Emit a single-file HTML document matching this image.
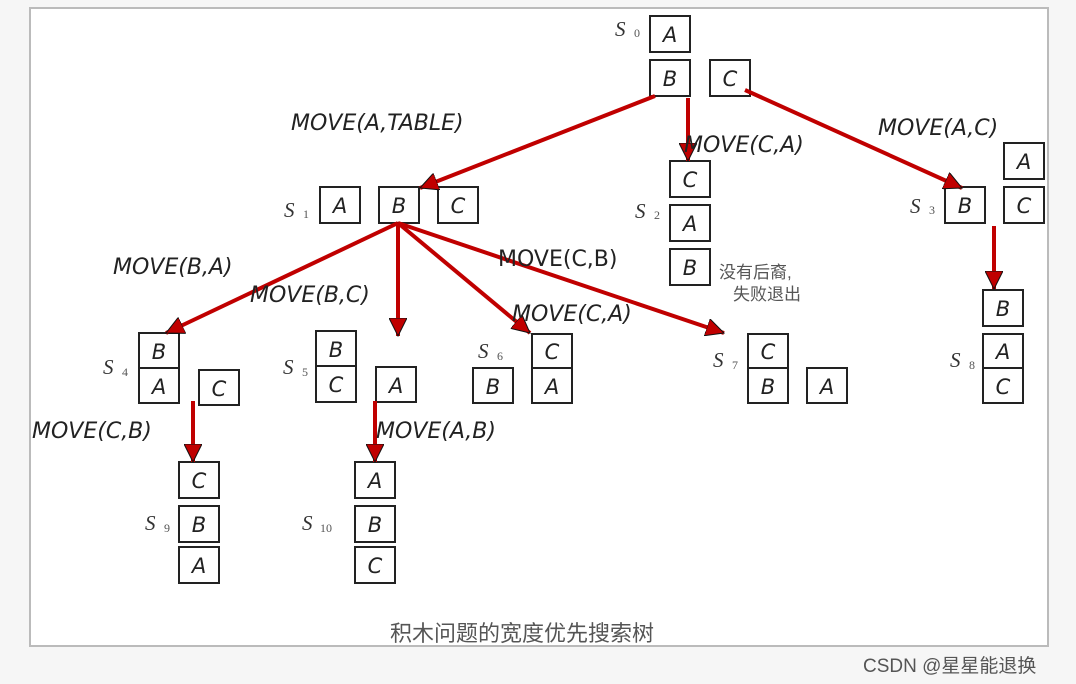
<!DOCTYPE html>
<html><head><meta charset="utf-8"><style>
html,body{margin:0;padding:0;background:#fff;}
svg{display:block;}
.b{fill:#fff;stroke:#222;stroke-width:2;}
.t{font-family:"DejaVu Sans","Liberation Sans",sans-serif;font-style:italic;font-size:22px;fill:#222;}
.bl{font-family:"DejaVu Sans","Liberation Sans",sans-serif;font-style:italic;font-size:21px;fill:#222;text-anchor:middle;}
.s{font-family:"Liberation Serif",serif;font-style:italic;font-size:21px;fill:#333;}
.sub{font-family:"Liberation Serif",serif;font-size:12px;fill:#555;}
.a{stroke:#c00000;stroke-width:4;fill:none;}
.cn{font-family:"Liberation Sans","Noto Sans CJK SC",sans-serif;fill:#555;}
</style></head><body>
<svg width="1076" height="684" viewBox="0 0 1076 684" xmlns="http://www.w3.org/2000/svg">
<defs>
<marker id="ah" markerWidth="20" markerHeight="18" refX="18" refY="9" orient="auto" markerUnits="userSpaceOnUse"><path d="M0,0 L18,9 L0,18 z" fill="#c00000" stroke="#111" stroke-width="1"/></marker></defs>
<rect x="0" y="0" width="1076" height="684" fill="#f6f6f6"/>
<rect x="30" y="8" width="1018" height="638" fill="#fff" stroke="#bbb" stroke-width="2"/>
<g id="boxes">
<rect class="b" x="650" y="16" width="40" height="36"/><text class="bl" x="670" y="42">A</text>
<rect class="b" x="650" y="60" width="40" height="36"/><text class="bl" x="670" y="86">B</text>
<rect class="b" x="710" y="60" width="40" height="36"/><text class="bl" x="730" y="86">C</text>
<rect class="b" x="320" y="187" width="40" height="36"/><text class="bl" x="340" y="213">A</text>
<rect class="b" x="379" y="187" width="40" height="36"/><text class="bl" x="399" y="213">B</text>
<rect class="b" x="438" y="187" width="40" height="36"/><text class="bl" x="458" y="213">C</text>
<rect class="b" x="670" y="161" width="40" height="36"/><text class="bl" x="690" y="187">C</text>
<rect class="b" x="670" y="205" width="40" height="36"/><text class="bl" x="690" y="231">A</text>
<rect class="b" x="670" y="249" width="40" height="36"/><text class="bl" x="690" y="275">B</text>
<rect class="b" x="1004" y="143" width="40" height="36"/><text class="bl" x="1024" y="169">A</text>
<rect class="b" x="945" y="187" width="40" height="36"/><text class="bl" x="965" y="213">B</text>
<rect class="b" x="1004" y="187" width="40" height="36"/><text class="bl" x="1024" y="213">C</text>
<rect class="b" x="983" y="290" width="40" height="36"/><text class="bl" x="1003" y="316">B</text>
<rect class="b" x="983" y="334" width="40" height="34"/><text class="bl" x="1003" y="359">A</text>
<rect class="b" x="983" y="368" width="40" height="35"/><text class="bl" x="1003" y="394">C</text>
<rect class="b" x="139" y="333" width="40" height="35"/><text class="bl" x="159" y="359">B</text>
<rect class="b" x="139" y="368" width="40" height="35"/><text class="bl" x="159" y="394">A</text>
<rect class="b" x="199" y="370" width="40" height="35"/><text class="bl" x="219" y="396">C</text>
<rect class="b" x="179" y="462" width="40" height="36"/><text class="bl" x="199" y="488">C</text>
<rect class="b" x="179" y="506" width="40" height="36"/><text class="bl" x="199" y="532">B</text>
<rect class="b" x="179" y="547" width="40" height="36"/><text class="bl" x="199" y="573">A</text>
<rect class="b" x="316" y="331" width="40" height="35"/><text class="bl" x="336" y="357">B</text>
<rect class="b" x="316" y="366" width="40" height="36"/><text class="bl" x="336" y="392">C</text>
<rect class="b" x="376" y="367" width="40" height="35"/><text class="bl" x="396" y="393">A</text>
<rect class="b" x="355" y="462" width="40" height="36"/><text class="bl" x="375" y="488">A</text>
<rect class="b" x="355" y="506" width="40" height="36"/><text class="bl" x="375" y="532">B</text>
<rect class="b" x="355" y="547" width="40" height="36"/><text class="bl" x="375" y="573">C</text>
<rect class="b" x="532" y="334" width="40" height="34"/><text class="bl" x="552" y="359">C</text>
<rect class="b" x="532" y="368" width="40" height="35"/><text class="bl" x="552" y="394">A</text>
<rect class="b" x="473" y="368" width="40" height="35"/><text class="bl" x="493" y="394">B</text>
<rect class="b" x="748" y="334" width="40" height="34"/><text class="bl" x="768" y="359">C</text>
<rect class="b" x="748" y="368" width="40" height="35"/><text class="bl" x="768" y="394">B</text>
<rect class="b" x="807" y="368" width="40" height="35"/><text class="bl" x="827" y="394">A</text>
</g>
<text class="s" x="615" y="36">S</text><text class="sub" x="634" y="37">0</text>
<text class="s" x="284" y="217">S</text><text class="sub" x="303" y="218">1</text>
<text class="s" x="635" y="218">S</text><text class="sub" x="654" y="219">2</text>
<text class="s" x="910" y="213">S</text><text class="sub" x="929" y="214">3</text>
<text class="s" x="103" y="374">S</text><text class="sub" x="122" y="376">4</text>
<text class="s" x="283" y="374">S</text><text class="sub" x="302" y="376">5</text>
<text class="s" x="478" y="358">S</text><text class="sub" x="497" y="360">6</text>
<text class="s" x="713" y="367">S</text><text class="sub" x="732" y="369">7</text>
<text class="s" x="950" y="367">S</text><text class="sub" x="969" y="369">8</text>
<text class="s" x="145" y="530">S</text><text class="sub" x="164" y="532">9</text>
<text class="s" x="302" y="530">S</text><text class="sub" x="320" y="532">10</text>
<line class="a" x1="655" y1="96" x2="420" y2="188" marker-end="url(#ah)"/>
<line class="a" x1="688" y1="98" x2="688" y2="161" marker-end="url(#ah)"/>
<line class="a" x1="745" y1="90" x2="962" y2="188" marker-end="url(#ah)"/>
<line class="a" x1="398" y1="223" x2="166" y2="333" marker-end="url(#ah)"/>
<line class="a" x1="398" y1="223" x2="398" y2="336" marker-end="url(#ah)"/>
<line class="a" x1="398" y1="223" x2="530" y2="333" marker-end="url(#ah)"/>
<line class="a" x1="398" y1="223" x2="724" y2="333" marker-end="url(#ah)"/>
<line class="a" x1="994" y1="226" x2="994" y2="289" marker-end="url(#ah)"/>
<line class="a" x1="193" y1="401" x2="193" y2="462" marker-end="url(#ah)"/>
<line class="a" x1="375" y1="401" x2="375" y2="462" marker-end="url(#ah)"/>
<text class="t" x="291" y="130">MOVE(A,TABLE)</text>
<text class="t" x="684" y="152">MOVE(C,A)</text>
<text class="t" x="878" y="135">MOVE(A,C)</text>
<text class="t" x="113" y="274">MOVE(B,A)</text>
<text class="t" x="250" y="302">MOVE(B,C)</text>
<text class="t" x="498" y="266" style="font-style:normal">MOVE(C,B)</text>
<text class="t" x="512" y="321">MOVE(C,A)</text>
<text class="t" x="32" y="438">MOVE(C,B)</text>
<text class="t" x="376" y="438">MOVE(A,B)</text>
<text class="cn" x="719" y="278" font-size="17">没有后裔,</text>
<text class="cn" x="733" y="300" font-size="17">失败退出</text>
<text class="cn" x="390" y="641" font-size="22" fill="#444">积木问题的宽度优先搜索树</text>
<text class="cn" x="863" y="672" font-size="19" fill="#666">CSDN @星星能退换</text>
</svg>
</body></html>
